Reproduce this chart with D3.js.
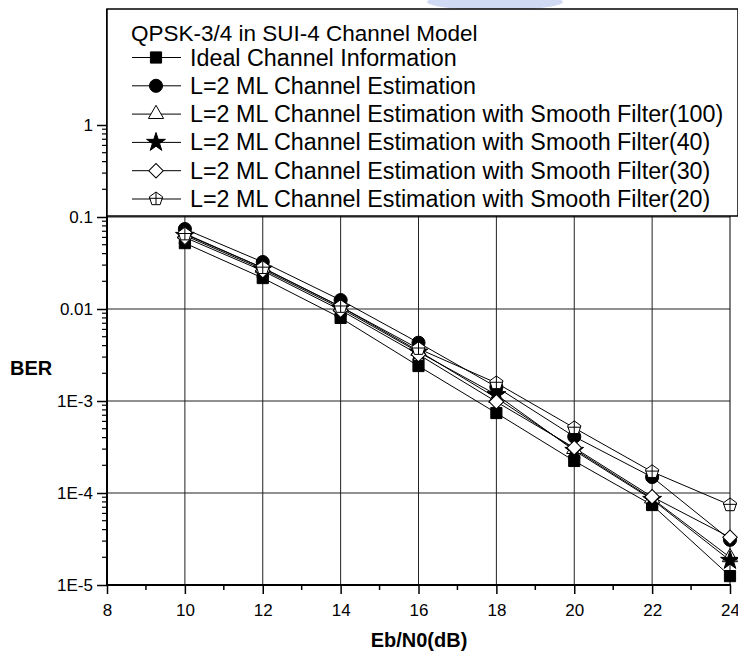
<!DOCTYPE html>
<html>
<head>
<meta charset="utf-8">
<script src="https://cdn.jsdelivr.net/npm/d3@7"></script>
<style>
  body { margin: 0; background: #fff; }
  text { font-family: Arial, "Liberation Sans", sans-serif; }
</style>
</head>
<body>
<div id="main"></div>
<script>
// Eb/N0 values (dB)
const snr = [10, 12, 14, 16, 18, 20, 22, 24];

// BER curves
const ideal = [0.052, 0.0217, 0.0080, 0.0024, 0.00074, 0.000223, 0.000074, 0.0000125];
const mlEst = [0.074, 0.0324, 0.0125, 0.0043, 0.00142, 0.00041, 0.000149, 0.000031];
const sf100 = [0.066, 0.028, 0.0106, 0.0035, 0.00108, 0.00030, 0.000087, 0.000020];
const sf40  = [0.063, 0.027, 0.0102, 0.0034, 0.00117, 0.00029, 0.000085, 0.0000185];
const sf30  = [0.060, 0.026, 0.0097, 0.0032, 0.00098, 0.00031, 0.000091, 0.000033];
const sf20  = [0.065, 0.028, 0.0106, 0.0037, 0.00157, 0.00051, 0.00017, 0.000074];

const seriesNames = [
  "Ideal Channel Information",
  "L=2 ML Channel Estimation",
  "L=2 ML Channel Estimation with Smooth Filter(100)",
  "L=2 ML Channel Estimation with Smooth Filter(40)",
  "L=2 ML Channel Estimation with Smooth Filter(30)",
  "L=2 ML Channel Estimation with Smooth Filter(20)"
];
const legendTitle = "QPSK-3/4 in SUI-4 Channel Model";

const xTicks = [8, 10, 12, 14, 16, 18, 20, 22, 24];
const yTicks = [1e-5, 1e-4, 1e-3, 1e-2, 1e-1, 1];
const yTickLabels = ["1E-5", "1E-4", "1E-3", "0.01", "0.1", "1"];

const ctx = {
  W: 738, H: 655,
  left: 107, right: 730, top: 9, bottom: 585,
  legendBottom: 216
};

const svg = d3.select("#main").append("svg")
  .attr("width", ctx.W).attr("height", ctx.H);

const x = d3.scaleLinear().domain([8, 24]).range([ctx.left, ctx.right]);
const yTop = Math.pow(10, -5 + (ctx.bottom - ctx.top) / 92);
const y = d3.scaleLog().domain([1e-5, yTop]).range([ctx.bottom, ctx.top]);

// faint watermark at top
svg.append("ellipse").attr("cx", 495).attr("cy", 2).attr("rx", 68).attr("ry", 8)
  .attr("fill", "#8aa3e0").attr("opacity", 0.4);

// grid
const grid = svg.append("g");
grid.selectAll("line.gx").data(xTicks.slice(1, -1)).enter().append("line")
  .attr("x1", d => x(d)).attr("x2", d => x(d))
  .attr("y1", ctx.top).attr("y2", ctx.bottom)
  .attr("stroke", "#222").attr("stroke-width", 1);
grid.selectAll("line.gy").data(yTicks.slice(1)).enter().append("line")
  .attr("x1", ctx.left).attr("x2", ctx.right)
  .attr("y1", d => y(d)).attr("y2", d => y(d))
  .attr("stroke", "#222").attr("stroke-width", 1);

// x axis
const xMinor = d3.range(9, 24, 2);
const xAxis = svg.append("g").attr("transform", `translate(0,${ctx.bottom})`)
  .call(d3.axisBottom(x).tickValues(xTicks).tickSize(9).tickPadding(10).tickFormat(d3.format("d")));
xAxis.select(".domain").remove();
xAxis.selectAll("text").attr("font-size", 17).attr("fill", "#000");
xAxis.selectAll("line").attr("stroke-width", 1.5);
svg.append("g").selectAll("line").data(xMinor).enter().append("line")
  .attr("x1", d => x(d)).attr("x2", d => x(d))
  .attr("y1", ctx.bottom).attr("y2", ctx.bottom + 5)
  .attr("stroke", "#000").attr("stroke-width", 1.5);

// y axis
const yMinor = [];
[1e-5, 1e-4, 1e-3, 1e-2, 1e-1].forEach(dec => {
  for (let k = 2; k <= 9; k++) yMinor.push(dec * k);
});
const yAxis = svg.append("g").attr("transform", `translate(${ctx.left},0)`)
  .call(d3.axisLeft(y).tickValues(yTicks).tickSize(10).tickPadding(4)
    .tickFormat((d, i) => yTickLabels[i]));
yAxis.select(".domain").remove();
yAxis.selectAll("text").attr("font-size", 17).attr("fill", "#000");
yAxis.selectAll("line").attr("stroke-width", 1.5);
svg.append("g").selectAll("line").data(yMinor).enter().append("line")
  .attr("x1", ctx.left - 5).attr("x2", ctx.left)
  .attr("y1", d => y(d)).attr("y2", d => y(d))
  .attr("stroke", "#000").attr("stroke-width", 1.2);

// frame
svg.append("line").attr("x1", ctx.left).attr("x2", ctx.left)
  .attr("y1", ctx.top).attr("y2", ctx.bottom + 1)
  .attr("stroke", "#000").attr("stroke-width", 2);
svg.append("line").attr("x1", ctx.left - 1).attr("x2", ctx.right + 1)
  .attr("y1", ctx.bottom).attr("y2", ctx.bottom)
  .attr("stroke", "#000").attr("stroke-width", 2);
svg.append("line").attr("x1", ctx.right).attr("x2", ctx.right)
  .attr("y1", ctx.top).attr("y2", ctx.bottom)
  .attr("stroke", "#000").attr("stroke-width", 1);

// axis titles
svg.append("text").attr("x", 10).attr("y", 375).attr("font-size", 20)
  .attr("font-weight", "bold").text("BER");
svg.append("text").attr("x", 419).attr("y", 647).attr("font-size", 20)
  .attr("font-weight", "bold").attr("text-anchor", "middle").text("Eb/N0(dB)");

// markers
function pentagonPath(r) {
  const pts = d3.range(5).map(i => {
    const a = -Math.PI / 2 + i * 2 * Math.PI / 5;
    return [r * Math.cos(a), r * Math.sin(a)];
  });
  return "M" + pts.join("L") + "Z" + `M0,${-r}L0,${r * 0.81}M${-r * 0.95},${-r * 0.1}L${r * 0.95},${-r * 0.1}`;
}
const markers = [
  { path: d3.symbol(d3.symbolSquare, 125)(), fill: "#000", rot: 0 },
  { path: d3.symbol(d3.symbolCircle, 135)(), fill: "#000", rot: 0 },
  { path: d3.symbol(d3.symbolTriangle, 100)(), fill: "#fff", rot: 0 },
  { path: d3.symbol(d3.symbolStar, 110)(), fill: "#000", rot: 0 },
  { path: d3.symbol(d3.symbolSquare, 105)(), fill: "#fff", rot: 45 },
  { path: pentagonPath(7), fill: "#fff", rot: 0 }
];

const allSeries = [ideal, mlEst, sf100, sf40, sf30, sf20];
const line = d3.line().x(d => x(d[0])).y(d => y(d[1]));

const plot = svg.append("g");
allSeries.forEach((vals, si) => {
  const pts = snr.map((s, i) => [s, vals[i]]);
  plot.append("path").attr("d", line(pts))
    .attr("fill", "none").attr("stroke", "#000").attr("stroke-width", 1);
});
allSeries.forEach((vals, si) => {
  const m = markers[si];
  plot.selectAll(null).data(snr.map((s, i) => [s, vals[i]])).enter().append("path")
    .attr("d", m.path)
    .attr("transform", d => `translate(${x(d[0])},${y(d[1])}) rotate(${m.rot})`)
    .attr("fill", m.fill).attr("stroke", "#000").attr("stroke-width", 1);
});

// legend box
const lg = svg.append("g");
lg.append("rect").attr("x", ctx.left).attr("y", ctx.top)
  .attr("width", ctx.right - ctx.left + 8).attr("height", ctx.legendBottom - ctx.top)
  .attr("fill", "#fff").attr("stroke", "#000").attr("stroke-width", 1.5);
lg.append("text").attr("x", 131).attr("y", 41).attr("font-size", 22.5).text(legendTitle);
seriesNames.forEach((name, i) => {
  const cy = 57.5 + i * 28.3;
  lg.append("line").attr("x1", 132).attr("x2", 181).attr("y1", cy).attr("y2", cy)
    .attr("stroke", "#000").attr("stroke-width", 1);
  lg.append("path").attr("d", markers[i].path)
    .attr("transform", `translate(156,${cy}) rotate(${markers[i].rot})`)
    .attr("fill", markers[i].fill).attr("stroke", "#000").attr("stroke-width", 1);
  lg.append("text").attr("x", 190).attr("y", cy + 8).attr("font-size", 23.3).text(name);
});
</script>
</body>
</html>
